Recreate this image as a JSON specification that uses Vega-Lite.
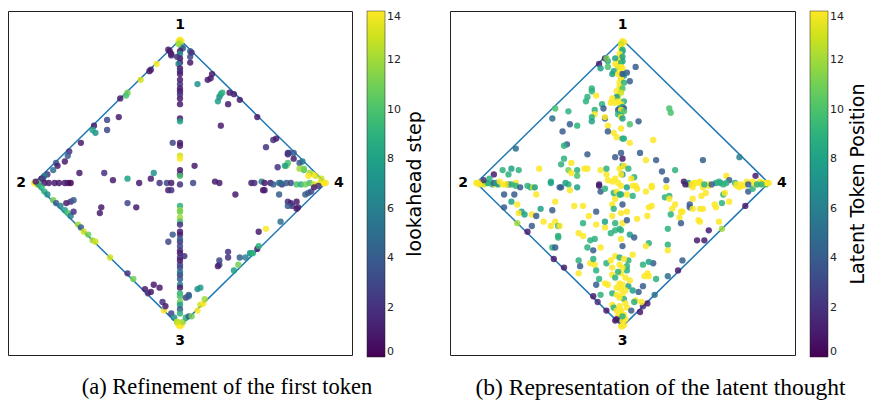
{
"$schema": "https://vega.github.io/schema/vega-lite/v6.json",
"padding": {"left": 7, "top": 10, "right": 0, "bottom": 0},
"config": {
  "font": "DejaVu Sans",
  "view": {"stroke": "#222", "strokeWidth": 1},
  "legend": {"offset": 15, "padding": 0, "gradientLength": 346, "gradientThickness": 18, "labelFontSize": 11, "labelColor": "#222", "labelOffset": 8, "labelOverlap": false, "titleFontSize": 19, "titleFontWeight": "normal", "titleColor": "#000", "titleOrient": "right", "titleAnchor": "middle", "titlePadding": 5, "titleLimit": 500, "gradientStrokeColor": "#222", "gradientStrokeWidth": 0.5},
  "title": {"font": "Liberation Serif", "fontSize": 22.5, "fontWeight": "normal", "color": "#000", "offset": 18}
},
"spacing": 22,
"resolve": {"scale": {"color": "independent"}},
"datasets": {
  "diamond": [{"x":0,"y":1,"o":0},{"x":-1,"y":0,"o":1},{"x":0,"y":-1,"o":2},{"x":1,"y":0,"o":3},{"x":0,"y":1,"o":4}],
  "labels": [{"x":0,"y":1.1,"t":"1"},{"x":-1.09,"y":0,"t":"2"},{"x":0,"y":-1.1,"t":"3"},{"x":1.09,"y":0,"t":"4"}],
  "a": [
{"x":0,"y":1,"c":14},{"x":0.01,"y":0.99,"c":14},{"x":-0.01,"y":0.99,"c":14},{"x":0,"y":0.98,"c":13},{"x":0.01,"y":0.95,"c":7},{"x":0.02,"y":0.94,"c":4},{"x":-0.01,"y":0.97,"c":12},
{"x":0,"y":0.92,"c":1},{"x":0,"y":0.9,"c":7},{"x":0,"y":0.87,"c":1},{"x":0,"y":0.84,"c":1},{"x":-0.01,"y":0.83,"c":6},{"x":0,"y":0.8,"c":1},{"x":0,"y":0.78,"c":2},{"x":0,"y":0.76,"c":1},{"x":0,"y":0.72,"c":1},{"x":0,"y":0.69,"c":2},{"x":0,"y":0.64,"c":1},{"x":0,"y":0.59,"c":1},{"x":0,"y":0.55,"c":1},{"x":0,"y":0.45,"c":1},{"x":0,"y":0.43,"c":8},{"x":0,"y":0.28,"c":1},{"x":0,"y":0.26,"c":1},{"x":0,"y":0.19,"c":13},{"x":0,"y":0.17,"c":14},{"x":0,"y":0.09,"c":1},{"x":0,"y":0.06,"c":1},{"x":0,"y":0.05,"c":10},{"x":0,"y":-0.01,"c":2},
{"x":-0.05,"y":0.28,"c":3},{"x":-0.07,"y":0.92,"c":1},{"x":-0.02,"y":0.88,"c":2},{"x":0.07,"y":0.92,"c":4},{"x":0.07,"y":0.88,"c":3},{"x":0.07,"y":0.84,"c":1},{"x":0.08,"y":0.91,"c":2},{"x":-0.08,"y":0.93,"c":1},{"x":-0.06,"y":0.89,"c":2},{"x":0,"y":0.66,"c":1},{"x":0,"y":0.62,"c":2},
{"x":-0.16,"y":0.83,"c":14},{"x":-0.2,"y":0.79,"c":1},{"x":-0.27,"y":0.72,"c":13},{"x":-0.36,"y":0.63,"c":11},{"x":-0.37,"y":0.61,"c":10},{"x":-0.41,"y":0.59,"c":1},{"x":-0.59,"y":0.4,"c":1},{"x":-0.58,"y":0.35,"c":7},{"x":-0.6,"y":0.37,"c":8},{"x":-0.5,"y":0.44,"c":3},{"x":-0.5,"y":0.37,"c":3},{"x":-0.42,"y":0.46,"c":1},{"x":-0.68,"y":0.28,"c":1},{"x":-0.76,"y":0.22,"c":2},{"x":-0.77,"y":0.19,"c":4},{"x":-0.79,"y":0.15,"c":1},{"x":-0.85,"y":0.14,"c":4},{"x":-0.84,"y":0.12,"c":1},{"x":-0.87,"y":0.09,"c":5},{"x":-0.91,"y":0.06,"c":2},{"x":-0.93,"y":0.05,"c":6},{"x":-0.95,"y":0.03,"c":1},{"x":-0.94,"y":0.03,"c":3},{"x":-0.69,"y":0.07,"c":1},{"x":-0.21,"y":0.78,"c":1},{"x":-0.06,"y":0.9,"c":1},
{"x":-1,"y":0,"c":14},{"x":-0.99,"y":0,"c":14},{"x":-0.98,"y":-0.01,"c":14},{"x":-0.98,"y":0,"c":13},{"x":-0.97,"y":-0.01,"c":8},{"x":-0.99,"y":0.01,"c":1},
{"x":-0.93,"y":0,"c":1},{"x":-0.9,"y":0,"c":1},{"x":-0.86,"y":0,"c":1},{"x":-0.83,"y":0,"c":1},{"x":-0.79,"y":0,"c":1},{"x":-0.77,"y":0,"c":1},{"x":-0.75,"y":0,"c":0},
{"x":-0.52,"y":0.07,"c":2},{"x":-0.46,"y":0.02,"c":1},{"x":-0.36,"y":0.03,"c":8},{"x":-0.28,"y":0,"c":1},{"x":-0.2,"y":0.03,"c":1},{"x":-0.18,"y":0.07,"c":7},{"x":-0.14,"y":0,"c":2},{"x":-0.09,"y":0,"c":3},{"x":-0.06,"y":0,"c":1},{"x":-0.08,"y":-0.05,"c":1},{"x":-0.06,"y":-0.05,"c":2},{"x":0.09,"y":0,"c":3},{"x":0.1,"y":0.12,"c":1},{"x":0.24,"y":0.01,"c":1},{"x":0.27,"y":0,"c":1},{"x":0.49,"y":0,"c":1},{"x":0.51,"y":0,"c":2},{"x":0.56,"y":0.01,"c":6},{"x":0.58,"y":0,"c":1},{"x":0.57,"y":-0.05,"c":1},{"x":0.62,"y":0,"c":1},{"x":0.64,"y":-0.01,"c":4},{"x":0.68,"y":0,"c":5},{"x":0.7,"y":-0.01,"c":2},{"x":0.73,"y":0,"c":4},{"x":0.76,"y":0,"c":3},{"x":0.8,"y":-0.01,"c":10},{"x":0.83,"y":-0.01,"c":9},{"x":0.86,"y":-0.01,"c":11},{"x":0.89,"y":0,"c":10},{"x":0.92,"y":-0.01,"c":13},{"x":0.96,"y":0,"c":14},{"x":0.98,"y":0,"c":14},{"x":0.99,"y":0,"c":14},{"x":1,"y":0,"c":14},{"x":0.97,"y":0,"c":14},
{"x":-0.95,"y":-0.03,"c":9},{"x":-0.93,"y":-0.06,"c":9},{"x":-0.91,"y":-0.08,"c":7},{"x":-0.87,"y":-0.12,"c":11},{"x":-0.85,"y":-0.14,"c":4},{"x":-0.82,"y":-0.16,"c":6},{"x":-0.79,"y":-0.19,"c":8},{"x":-0.77,"y":-0.21,"c":10},{"x":-0.75,"y":-0.23,"c":6},{"x":-0.73,"y":-0.2,"c":2},{"x":-0.75,"y":-0.13,"c":2},{"x":-0.78,"y":-0.14,"c":1},{"x":-0.7,"y":-0.29,"c":12},{"x":-0.68,"y":-0.31,"c":4},{"x":-0.66,"y":-0.34,"c":13},{"x":-0.63,"y":-0.36,"c":11},{"x":-0.6,"y":-0.4,"c":12},{"x":-0.58,"y":-0.41,"c":13},{"x":-0.48,"y":-0.52,"c":13},{"x":-0.36,"y":-0.63,"c":2},{"x":-0.32,"y":-0.67,"c":11},{"x":-0.24,"y":-0.74,"c":1},{"x":-0.22,"y":-0.77,"c":2},{"x":-0.2,"y":-0.76,"c":1},{"x":-0.18,"y":-0.71,"c":1},{"x":-0.14,"y":-0.73,"c":1},{"x":-0.12,"y":-0.83,"c":2},{"x":-0.11,"y":-0.89,"c":14},{"x":-0.1,"y":-0.86,"c":1},{"x":-0.06,"y":-0.91,"c":3},{"x":-0.04,"y":-0.94,"c":7},{"x":-0.02,"y":-0.97,"c":10},
{"x":-0.54,"y":-0.17,"c":1},{"x":-0.55,"y":-0.21,"c":1},{"x":-0.36,"y":-0.14,"c":3},{"x":-0.3,"y":-0.17,"c":1},{"x":-0.73,"y":-0.12,"c":4},
{"x":0,"y":-1,"c":14},{"x":0.01,"y":-0.99,"c":14},{"x":-0.01,"y":-0.99,"c":14},{"x":0,"y":-0.98,"c":14},{"x":-0.02,"y":-0.97,"c":13},{"x":0.02,"y":-0.97,"c":12},{"x":0.04,"y":-0.94,"c":9},{"x":0.06,"y":-0.93,"c":4},
{"x":0,"y":-0.16,"c":9},{"x":0,"y":-0.19,"c":12},{"x":0,"y":-0.2,"c":11},{"x":0,"y":-0.24,"c":12},{"x":0,"y":-0.27,"c":10},{"x":0,"y":-0.29,"c":2},{"x":0,"y":-0.34,"c":1},{"x":0,"y":-0.36,"c":1},{"x":0,"y":-0.41,"c":2},{"x":0,"y":-0.44,"c":3},{"x":0,"y":-0.47,"c":2},{"x":0,"y":-0.49,"c":1},{"x":0,"y":-0.52,"c":2},{"x":0,"y":-0.57,"c":3},{"x":0,"y":-0.59,"c":3},{"x":0,"y":-0.64,"c":2},{"x":0,"y":-0.67,"c":4},{"x":0,"y":-0.71,"c":6},{"x":0,"y":-0.73,"c":1},{"x":0,"y":-0.77,"c":9},{"x":0,"y":-0.79,"c":10},{"x":0,"y":-0.83,"c":11},{"x":0,"y":-0.85,"c":8},{"x":0,"y":-0.88,"c":4},{"x":0,"y":-0.91,"c":9},{"x":0,"y":-0.62,"c":5},{"x":0,"y":-0.39,"c":4},{"x":0,"y":-0.54,"c":1},
{"x":-0.05,"y":-0.36,"c":4},{"x":-0.08,"y":-0.41,"c":3},{"x":0.03,"y":-0.51,"c":2},{"x":0.06,"y":-0.79,"c":5},{"x":0.04,"y":-0.8,"c":3},
{"x":0.14,"y":-0.73,"c":8},{"x":0.12,"y":-0.74,"c":7},{"x":0.14,"y":-0.85,"c":13},{"x":0.16,"y":-0.84,"c":14},{"x":0.17,"y":-0.81,"c":12},{"x":0.12,"y":-0.89,"c":14},{"x":0.08,"y":-0.93,"c":11},{"x":0.06,"y":-0.78,"c":4},{"x":0.37,"y":-0.61,"c":8},{"x":0.4,"y":-0.57,"c":11},{"x":0.48,"y":-0.49,"c":7},{"x":0.49,"y":-0.49,"c":8},{"x":0.5,"y":-0.49,"c":9},{"x":0.53,"y":-0.46,"c":1},{"x":0.54,"y":-0.44,"c":9},{"x":0.69,"y":-0.27,"c":5},{"x":0.59,"y":-0.32,"c":14},{"x":0.54,"y":-0.34,"c":1},{"x":0.27,"y":-0.57,"c":3},{"x":0.27,"y":-0.54,"c":3},{"x":0.33,"y":-0.48,"c":2},{"x":0.33,"y":-0.52,"c":2},{"x":0.41,"y":-0.52,"c":4},{"x":0.26,"y":-0.58,"c":1},{"x":0.45,"y":-0.52,"c":6},
{"x":0.38,"y":-0.08,"c":1},{"x":0.68,"y":-0.08,"c":4},{"x":0.74,"y":-0.13,"c":2},{"x":0.76,"y":-0.14,"c":1},{"x":0.8,"y":-0.13,"c":1},{"x":0.77,"y":-0.16,"c":2},{"x":0.81,"y":-0.17,"c":1},{"x":0.8,"y":-0.18,"c":1},{"x":0.74,"y":-0.16,"c":4},{"x":0.86,"y":-0.08,"c":4},{"x":0.88,"y":-0.07,"c":4},{"x":0.9,"y":-0.06,"c":3},{"x":0.92,"y":-0.03,"c":1},{"x":0.95,"y":-0.02,"c":2},{"x":0.58,"y":-0.05,"c":1},
{"x":0.97,"y":0.03,"c":13},{"x":0.93,"y":0.05,"c":13},{"x":0.91,"y":0.06,"c":14},{"x":0.89,"y":0.07,"c":12},{"x":0.85,"y":0.09,"c":10},{"x":0.84,"y":0.15,"c":6},{"x":0.82,"y":0.14,"c":4},{"x":0.78,"y":0.17,"c":1},{"x":0.78,"y":0.21,"c":4},{"x":0.74,"y":0.2,"c":1},{"x":0.75,"y":0.21,"c":4},{"x":0.73,"y":0.12,"c":11},{"x":0.74,"y":0.14,"c":10},{"x":0.67,"y":0.11,"c":2},{"x":0.69,"y":0,"c":5},{"x":0.72,"y":0.12,"c":8},{"x":0.82,"y":0.1,"c":12},{"x":0.85,"y":0.1,"c":11},{"x":0.88,"y":0.05,"c":14},
{"x":0.12,"y":0.69,"c":7},{"x":0.19,"y":0.72,"c":1},{"x":0.21,"y":0.73,"c":1},{"x":0.22,"y":0.76,"c":1},{"x":0.26,"y":0.57,"c":8},{"x":0.27,"y":0.6,"c":7},{"x":0.28,"y":0.62,"c":8},{"x":0.29,"y":0.63,"c":9},{"x":0.33,"y":0.55,"c":1},{"x":0.34,"y":0.63,"c":1},{"x":0.37,"y":0.62,"c":1},{"x":0.41,"y":0.58,"c":1},{"x":0.28,"y":0.4,"c":1},{"x":0.53,"y":0.46,"c":1},{"x":0.59,"y":0.25,"c":2},{"x":0.64,"y":0.3,"c":2},{"x":0.66,"y":0.31,"c":1},{"x":0.74,"y":0.21,"c":2}
  ],
  "b": [
{"x":0,"y":0.99,"c":14},{"x":0,"y":0.98,"c":14},{"x":0.01,"y":0.98,"c":14},{"x":-0.01,"y":0.97,"c":13},{"x":-0.01,"y":0.94,"c":14},{"x":0,"y":0.92,"c":7},{"x":0,"y":0.93,"c":9},{"x":-0.02,"y":0.9,"c":14},{"x":-0.01,"y":0.88,"c":14},{"x":0,"y":0.88,"c":8},{"x":0,"y":0.85,"c":8},{"x":-0.03,"y":0.85,"c":14},{"x":-0.01,"y":0.84,"c":9},{"x":-0.03,"y":0.81,"c":13},{"x":-0.01,"y":0.81,"c":14},{"x":0,"y":0.8,"c":14},{"x":-0.02,"y":0.77,"c":14},{"x":0.03,"y":0.77,"c":4},{"x":0.09,"y":0.81,"c":4},{"x":0,"y":0.76,"c":5},{"x":0.01,"y":0.75,"c":7},{"x":-0.01,"y":0.73,"c":13},{"x":-0.01,"y":0.72,"c":14},{"x":-0.02,"y":0.7,"c":14},{"x":0.01,"y":0.7,"c":9},{"x":0.05,"y":0.71,"c":4},{"x":-0.02,"y":0.67,"c":14},{"x":-0.01,"y":0.66,"c":14},{"x":0,"y":0.66,"c":10},{"x":-0.04,"y":0.64,"c":14},{"x":-0.01,"y":0.63,"c":13},{"x":-0.03,"y":0.6,"c":13},{"x":-0.04,"y":0.6,"c":8},{"x":-0.07,"y":0.59,"c":14},{"x":-0.03,"y":0.57,"c":14},{"x":0.01,"y":0.57,"c":9},{"x":-0.08,"y":0.56,"c":14},{"x":-0.05,"y":0.56,"c":14},{"x":-0.01,"y":0.55,"c":14},{"x":0,"y":0.53,"c":8},{"x":-0.02,"y":0.52,"c":8},{"x":0.01,"y":0.52,"c":4},{"x":-0.03,"y":0.51,"c":4},{"x":-0.01,"y":0.51,"c":14},{"x":0.01,"y":0.5,"c":10},{"x":-0.03,"y":0.48,"c":9},{"x":-0.01,"y":0.47,"c":9},{"x":-0.01,"y":0.46,"c":14},{"x":0,"y":0.45,"c":8},
{"x":-0.05,"y":0.87,"c":8},{"x":-0.1,"y":0.85,"c":9},{"x":-0.12,"y":0.87,"c":1},{"x":-0.11,"y":0.87,"c":11},{"x":-0.16,"y":0.83,"c":1},{"x":-0.15,"y":0.8,"c":8},{"x":-0.1,"y":0.81,"c":10},{"x":-0.05,"y":0.83,"c":14},{"x":-0.07,"y":0.76,"c":8},{"x":-0.06,"y":0.78,"c":8},{"x":-0.03,"y":0.76,"c":14},{"x":0,"y":0.76,"c":4},
{"x":-0.21,"y":0.66,"c":9},{"x":-0.21,"y":0.64,"c":9},{"x":-0.24,"y":0.6,"c":9},{"x":-0.25,"y":0.57,"c":9},{"x":-0.18,"y":0.61,"c":14},{"x":-0.14,"y":0.55,"c":9},{"x":-0.19,"y":0.51,"c":9},{"x":-0.13,"y":0.52,"c":4},{"x":-0.19,"y":0.48,"c":14},{"x":-0.21,"y":0.46,"c":9},{"x":-0.21,"y":0.43,"c":8},{"x":-0.12,"y":0.45,"c":4},{"x":-0.12,"y":0.46,"c":14},{"x":-0.37,"y":0.5,"c":9},{"x":-0.31,"y":0.4,"c":9},{"x":-0.36,"y":0.41,"c":4},{"x":-0.41,"y":0.36,"c":4},{"x":-0.1,"y":0.4,"c":14},{"x":-0.06,"y":0.35,"c":14},{"x":-0.1,"y":0.36,"c":4},{"x":-0.04,"y":0.32,"c":14},{"x":0,"y":0.31,"c":8},{"x":-0.46,"y":0.52,"c":10},{"x":-0.48,"y":0.45,"c":5},{"x":-0.73,"y":0.24,"c":5},{"x":-0.38,"y":0.27,"c":4},{"x":-0.4,"y":0.26,"c":9},{"x":-0.24,"y":0.2,"c":4},{"x":-0.4,"y":0.17,"c":9},{"x":-0.35,"y":0.14,"c":14},{"x":-0.42,"y":0.13,"c":9},{"x":-0.37,"y":0.09,"c":11},{"x":-0.35,"y":0.07,"c":14},{"x":-0.31,"y":0.09,"c":9},{"x":-0.31,"y":0.05,"c":10},{"x":-0.26,"y":0.1,"c":14},{"x":-0.24,"y":0.1,"c":14},{"x":-0.15,"y":0.09,"c":14},{"x":-0.11,"y":0.06,"c":14},{"x":-0.1,"y":0.02,"c":14},{"x":-0.07,"y":0.01,"c":14},{"x":-0.05,"y":0.03,"c":14},{"x":-0.11,"y":0.1,"c":9},{"x":-0.05,"y":0.18,"c":4},{"x":0,"y":0.17,"c":1},{"x":0,"y":0.12,"c":9},{"x":-0.02,"y":0.1,"c":14},{"x":0,"y":0.06,"c":7},{"x":-0.16,"y":-0.01,"c":1},{"x":-0.03,"y":0,"c":14},{"x":-0.57,"y":0.1,"c":14},{"x":-0.49,"y":0.01,"c":9},{"x":-0.88,"y":0.06,"c":1},{"x":-0.82,"y":0.09,"c":9},{"x":-0.78,"y":0.06,"c":9},{"x":-0.71,"y":0.09,"c":9},{"x":-0.76,"y":0.1,"c":8},{"x":-0.42,"y":-0.03,"c":4},{"x":-0.37,"y":-0.01,"c":9},
{"x":-1,"y":0,"c":14},{"x":-0.99,"y":0,"c":14},{"x":-0.97,"y":0,"c":14},{"x":-0.96,"y":0.01,"c":13},{"x":-0.93,"y":0,"c":10},{"x":-0.89,"y":-0.01,"c":9},{"x":-0.87,"y":-0.01,"c":14},{"x":-0.85,"y":-0.01,"c":8},{"x":-0.82,"y":-0.01,"c":14},{"x":-0.8,"y":-0.01,"c":14},{"x":-0.78,"y":-0.01,"c":4},{"x":-0.73,"y":0,"c":14},{"x":-0.95,"y":-0.01,"c":13},{"x":-0.92,"y":0,"c":9},{"x":-0.88,"y":0,"c":4},{"x":-0.86,"y":0,"c":8},{"x":-0.79,"y":-0.01,"c":14},{"x":-0.76,"y":-0.01,"c":9},{"x":-0.73,"y":-0.02,"c":9},{"x":-0.7,"y":-0.03,"c":4},{"x":-0.65,"y":-0.02,"c":9},{"x":-0.63,"y":-0.03,"c":9},{"x":-0.61,"y":-0.03,"c":14},{"x":-0.59,"y":-0.08,"c":14},{"x":-0.6,"y":-0.03,"c":8},{"x":-0.95,"y":0.02,"c":2},{"x":-0.91,"y":0.03,"c":9},{"x":-0.98,"y":-0.01,"c":14},{"x":-0.84,"y":0.01,"c":14},
{"x":-0.81,"y":-0.08,"c":4},{"x":-0.74,"y":-0.08,"c":4},{"x":-0.76,"y":-0.13,"c":8},{"x":-0.72,"y":-0.15,"c":14},{"x":-0.69,"y":-0.2,"c":8},{"x":-0.71,"y":-0.21,"c":14},{"x":-0.67,"y":-0.22,"c":8},{"x":-0.62,"y":-0.22,"c":14},{"x":-0.56,"y":-0.18,"c":8},{"x":-0.59,"y":-0.23,"c":4},{"x":-0.62,"y":-0.3,"c":4},{"x":-0.54,"y":-0.27,"c":14},{"x":-0.46,"y":-0.13,"c":14},{"x":-0.48,"y":-0.19,"c":4},{"x":-0.49,"y":0,"c":8},{"x":-0.43,"y":-0.03,"c":4},{"x":-0.39,"y":0,"c":8},{"x":-0.36,"y":-0.05,"c":14},{"x":-0.31,"y":-0.03,"c":8},{"x":-0.33,"y":-0.16,"c":14},{"x":-0.27,"y":-0.16,"c":14},{"x":-0.18,"y":-0.2,"c":4},{"x":-0.23,"y":-0.23,"c":14},{"x":-0.27,"y":-0.28,"c":9},{"x":-0.3,"y":-0.35,"c":14},{"x":-0.27,"y":-0.37,"c":14},{"x":-0.22,"y":-0.4,"c":9},{"x":-0.24,"y":-0.45,"c":9},{"x":-0.2,"y":-0.47,"c":4},{"x":-0.15,"y":-0.45,"c":14},{"x":-0.19,"y":-0.39,"c":9},{"x":-0.12,"y":-0.31,"c":14},{"x":-0.18,"y":-0.29,"c":14},{"x":-0.12,"y":-0.27,"c":8},{"x":-0.07,"y":-0.23,"c":14},{"x":-0.05,"y":-0.28,"c":9},{"x":-0.05,"y":-0.33,"c":9},{"x":-0.08,"y":-0.35,"c":9},{"x":-0.02,"y":-0.32,"c":9},{"x":0,"y":-0.28,"c":14},{"x":-0.07,"y":-0.15,"c":14},{"x":-0.06,"y":-0.18,"c":9},{"x":-0.05,"y":-0.11,"c":14},{"x":-0.06,"y":-0.07,"c":9},{"x":-0.15,"y":-0.06,"c":4},{"x":-0.16,"y":-0.02,"c":1},{"x":-0.12,"y":-0.04,"c":9},{"x":-0.04,"y":-0.06,"c":14},{"x":-0.02,"y":-0.08,"c":9},{"x":-0.46,"y":-0.27,"c":14},{"x":-0.44,"y":-0.3,"c":9},{"x":-0.43,"y":-0.3,"c":14},{"x":-0.49,"y":-0.3,"c":14},{"x":-0.44,"y":-0.37,"c":9},{"x":-0.44,"y":-0.38,"c":9},{"x":-0.48,"y":-0.45,"c":9},{"x":-0.46,"y":-0.45,"c":4},{"x":-0.3,"y":-0.54,"c":9},{"x":-0.29,"y":-0.58,"c":4},{"x":-0.3,"y":-0.63,"c":14},{"x":-0.22,"y":-0.56,"c":14},{"x":-0.19,"y":-0.57,"c":14},{"x":-0.2,"y":-0.53,"c":9},{"x":-0.18,"y":-0.61,"c":9},{"x":-0.16,"y":-0.67,"c":9},{"x":-0.18,"y":-0.71,"c":4},{"x":-0.12,"y":-0.7,"c":14},{"x":-0.1,"y":-0.71,"c":14},{"x":-0.11,"y":-0.56,"c":9},{"x":-0.07,"y":-0.59,"c":14},{"x":-0.07,"y":-0.64,"c":14},{"x":-0.05,"y":-0.66,"c":9},{"x":-0.04,"y":-0.73,"c":14},{"x":-0.02,"y":-0.7,"c":14},{"x":-0.08,"y":-0.54,"c":14},{"x":-0.05,"y":-0.51,"c":14},{"x":-0.02,"y":-0.52,"c":9},{"x":-0.02,"y":-0.57,"c":14},{"x":-0.07,"y":-0.77,"c":9},{"x":-0.04,"y":-0.78,"c":14},{"x":-0.07,"y":-0.85,"c":14},{"x":-0.06,"y":-0.87,"c":9},{"x":-0.04,"y":-0.89,"c":14},{"x":-0.02,"y":-0.86,"c":14},{"x":-0.03,"y":-0.93,"c":14},{"x":-0.02,"y":-0.96,"c":4},{"x":-0.04,"y":-0.95,"c":1},{"x":-0.15,"y":-0.78,"c":9},
{"x":-0.81,"y":-0.17,"c":4},{"x":-0.72,"y":-0.28,"c":12},{"x":-0.65,"y":-0.34,"c":1},{"x":-0.47,"y":-0.53,"c":1},{"x":-0.4,"y":-0.59,"c":1},{"x":-0.2,"y":-0.79,"c":1},{"x":-0.17,"y":-0.83,"c":2},{"x":-0.11,"y":-0.89,"c":1},{"x":-0.05,"y":-0.96,"c":1},
{"x":-0.01,"y":-0.02,"c":14},{"x":0.03,"y":-0.03,"c":8},{"x":0.07,"y":-0.02,"c":14},{"x":0.1,"y":-0.04,"c":14},{"x":0.16,"y":-0.06,"c":14},{"x":0.2,"y":-0.03,"c":14},{"x":0.03,"y":-0.08,"c":14},{"x":-0.01,"y":-0.08,"c":9},{"x":0,"y":-0.15,"c":4},{"x":0.07,"y":-0.09,"c":9},{"x":0.03,"y":-0.2,"c":14},{"x":-0.01,"y":-0.21,"c":14},{"x":0.03,"y":-0.26,"c":4},{"x":0.1,"y":-0.25,"c":14},{"x":0.17,"y":-0.23,"c":14},{"x":0.2,"y":-0.16,"c":14},{"x":0.18,"y":-0.17,"c":14},{"x":0.3,"y":-0.03,"c":14},{"x":0.29,"y":-0.1,"c":9},{"x":0.32,"y":-0.09,"c":9},{"x":0.32,"y":-0.11,"c":14},{"x":0.36,"y":-0.15,"c":14},{"x":0.34,"y":-0.18,"c":14},{"x":0.33,"y":-0.22,"c":9},{"x":0.42,"y":0.01,"c":1},{"x":0.41,"y":-0.2,"c":14},{"x":0.39,"y":-0.24,"c":14},{"x":0.46,"y":-0.15,"c":4},{"x":0.46,"y":-0.17,"c":4},{"x":0.48,"y":-0.11,"c":14},{"x":0.48,"y":-0.18,"c":14},{"x":0.53,"y":-0.18,"c":14},{"x":0.55,"y":-0.18,"c":14},{"x":0.52,"y":-0.26,"c":14},{"x":0.48,"y":-0.03,"c":14},{"x":0.45,"y":-0.01,"c":9},{"x":0.49,"y":0,"c":14},{"x":0.53,"y":0,"c":14},{"x":0.55,"y":-0.03,"c":14},{"x":0.57,"y":-0.07,"c":14},{"x":0.54,"y":-0.09,"c":14},{"x":0.59,"y":-0.02,"c":14},{"x":0.63,"y":-0.15,"c":14},{"x":0.64,"y":-0.17,"c":14},{"x":0.67,"y":0,"c":8},{"x":0.69,"y":-0.08,"c":9},{"x":0.68,"y":-0.14,"c":9},{"x":0.73,"y":-0.13,"c":14},{"x":0.7,"y":-0.07,"c":14},{"x":0.78,"y":-0.02,"c":14},{"x":0.8,"y":-0.03,"c":14},{"x":0.83,"y":-0.02,"c":14},{"x":0.86,"y":-0.06,"c":4},{"x":0.84,"y":-0.16,"c":1},{"x":0.89,"y":-0.04,"c":9},{"x":0.91,"y":-0.01,"c":14},{"x":0.96,"y":-0.01,"c":14},{"x":0.98,"y":-0.01,"c":9},{"x":1,"y":0,"c":14},{"x":0.99,"y":0,"c":14},
{"x":0.66,"y":-0.27,"c":14},{"x":0.68,"y":-0.32,"c":12},{"x":0.59,"y":-0.33,"c":1},{"x":0.56,"y":-0.4,"c":1},{"x":0.51,"y":-0.4,"c":1},{"x":0.41,"y":-0.54,"c":4},{"x":0.38,"y":-0.61,"c":1},{"x":0.31,"y":-0.65,"c":5},{"x":0.22,"y":-0.78,"c":5},{"x":0.17,"y":-0.84,"c":1},{"x":0.12,"y":-0.9,"c":1},{"x":0.14,"y":-0.86,"c":2},
{"x":0.31,"y":-0.43,"c":9},{"x":0.31,"y":-0.47,"c":14},{"x":0.4,"y":-0.28,"c":4},{"x":0.53,"y":-0.27,"c":14},{"x":0.4,"y":-0.2,"c":14},{"x":0.18,"y":-0.42,"c":9},{"x":0.16,"y":-0.44,"c":14},{"x":0.21,"y":-0.56,"c":4},{"x":0.18,"y":-0.55,"c":8},{"x":0.14,"y":-0.57,"c":9},{"x":0.17,"y":-0.63,"c":14},{"x":0.15,"y":-0.65,"c":14},{"x":0.18,"y":-0.65,"c":14},{"x":0.23,"y":-0.67,"c":9},{"x":0.14,"y":-0.72,"c":4},{"x":0.11,"y":-0.76,"c":4},{"x":0.13,"y":-0.83,"c":14},{"x":0.09,"y":-0.82,"c":14},{"x":0.07,"y":-0.75,"c":8},{"x":0.04,"y":-0.72,"c":8},{"x":0.05,"y":-0.68,"c":14},{"x":0.03,"y":-0.61,"c":9},{"x":0.03,"y":-0.58,"c":9},{"x":0.07,"y":-0.5,"c":14},{"x":0.04,"y":-0.54,"c":9},{"x":0,"y":-0.59,"c":14},{"x":0.01,"y":-0.53,"c":14},{"x":-0.01,"y":-0.63,"c":14},{"x":0,"y":-0.71,"c":14},{"x":-0.01,"y":-0.74,"c":14},{"x":0,"y":-0.78,"c":14},{"x":0.01,"y":-0.81,"c":9},{"x":0.03,"y":-0.87,"c":14},{"x":-0.01,"y":-0.89,"c":14},{"x":0.01,"y":-0.92,"c":14},{"x":0,"y":-0.96,"c":14},{"x":-0.01,"y":-1,"c":14},{"x":0,"y":-1,"c":14},{"x":0.01,"y":-0.99,"c":14},{"x":0.06,"y":-0.89,"c":4},{"x":0.08,"y":-0.83,"c":9},{"x":0.31,"y":-0.32,"c":9},{"x":-0.01,"y":-0.33,"c":9},{"x":-0.01,"y":-0.39,"c":14},{"x":0,"y":-0.44,"c":4},{"x":0.05,"y":-0.36,"c":8},{"x":0.08,"y":-0.38,"c":4},
{"x":0.02,"y":-0.66,"c":14},{"x":-0.02,"y":-0.8,"c":14},{"x":0.02,"y":-0.84,"c":14},{"x":-0.02,"y":-0.91,"c":14},{"x":0.02,"y":-0.95,"c":14},{"x":0,"y":-0.93,"c":9},{"x":0.02,"y":-0.75,"c":14},{"x":-0.03,"y":-0.62,"c":9},
{"x":0.11,"y":0.43,"c":4},{"x":0.05,"y":0.41,"c":10},{"x":-0.01,"y":0.38,"c":14},{"x":0.32,"y":0.52,"c":10},{"x":0.33,"y":0.49,"c":10},{"x":0.01,"y":0.31,"c":9},{"x":0.05,"y":0.28,"c":14},{"x":0.21,"y":0.3,"c":14},{"x":-0.01,"y":0.21,"c":4},{"x":0.12,"y":0.21,"c":4},{"x":0.16,"y":0.16,"c":14},{"x":0.23,"y":0.16,"c":4},{"x":0.55,"y":0.16,"c":4},{"x":0.8,"y":0.18,"c":6},{"x":0.01,"y":0.12,"c":14},{"x":0.04,"y":0.1,"c":9},{"x":0.08,"y":0.04,"c":9},{"x":0.06,"y":0.03,"c":14},{"x":-0.01,"y":0.06,"c":14},{"x":0.27,"y":0.08,"c":4},{"x":0.36,"y":0.09,"c":9},{"x":0.3,"y":0.02,"c":4},{"x":0.2,"y":-0.02,"c":14},{"x":0.09,"y":-0.02,"c":14},{"x":0.45,"y":0,"c":8},{"x":0.47,"y":-0.01,"c":14},{"x":0.5,"y":0,"c":14},{"x":0.53,"y":0.01,"c":14},{"x":0.59,"y":-0.01,"c":14},{"x":0.64,"y":0,"c":8},{"x":0.66,"y":0.01,"c":9},{"x":0.71,"y":0.05,"c":14},{"x":0.73,"y":0.02,"c":4},{"x":0.77,"y":0,"c":9},{"x":0.78,"y":-0.01,"c":14},{"x":0.81,"y":-0.01,"c":14},{"x":0.85,"y":0.01,"c":14},{"x":0.91,"y":0.05,"c":1},{"x":0.89,"y":0.01,"c":14},{"x":0.94,"y":0.01,"c":14},{"x":0.96,"y":0,"c":14},{"x":0.98,"y":0,"c":14},{"x":0.86,"y":-0.01,"c":4},{"x":0.92,"y":-0.01,"c":9},{"x":0.95,"y":-0.01,"c":9},{"x":0.71,"y":0,"c":9},{"x":0.69,"y":-0.01,"c":9},{"x":0.56,"y":-0.01,"c":9},{"x":0.61,"y":-0.01,"c":4},{"x":0.43,"y":-0.01,"c":1}
  ]
},
"hconcat": [
  {
    "width": 344, "height": 344,
    "title": {"text": "(a) Refinement of the first token", "orient": "bottom", "dx": 47},
    "layer": [
      {"data": {"name": "diamond"}, "mark": {"type": "line", "color": "#1f77b4", "strokeWidth": 1.5},
       "encoding": {"x": {"field": "x", "type": "quantitative", "scale": {"domain": [-1.18, 1.18], "nice": false, "zero": false}, "axis": null},
                    "y": {"field": "y", "type": "quantitative", "scale": {"domain": [-1.2, 1.2], "nice": false, "zero": false}, "axis": null},
                    "order": {"field": "o", "type": "quantitative"}}},
      {"data": {"name": "a"}, "mark": {"type": "circle", "size": 40, "fillOpacity": 0.85},
       "encoding": {"x": {"field": "x", "type": "quantitative"},
                    "y": {"field": "y", "type": "quantitative"},
                    "color": {"field": "c", "type": "quantitative", "scale": {"scheme": "viridis", "domain": [0, 14]}, "legend": {"title": "lookahead step", "values": [0, 2, 4, 6, 8, 10, 12, 14], "encode": {"title": {"update": {"angle": {"value": 270}, "baseline": {"value": "top"}}}}}}}},
      {"data": {"name": "labels"}, "mark": {"type": "text", "fontWeight": "bold", "fontSize": 14, "color": "#000"},
       "encoding": {"x": {"field": "x", "type": "quantitative"}, "y": {"field": "y", "type": "quantitative"}, "text": {"field": "t"}}}
    ]
  },
  {
    "width": 345, "height": 344,
    "title": {"text": "(b) Representation of the latent thought", "orient": "bottom", "dx": 38, "fontSize": 23.5},
    "layer": [
      {"data": {"name": "diamond"}, "mark": {"type": "line", "color": "#1f77b4", "strokeWidth": 1.5},
       "encoding": {"x": {"field": "x", "type": "quantitative", "scale": {"domain": [-1.18, 1.18], "nice": false, "zero": false}, "axis": null},
                    "y": {"field": "y", "type": "quantitative", "scale": {"domain": [-1.2, 1.2], "nice": false, "zero": false}, "axis": null},
                    "order": {"field": "o", "type": "quantitative"}}},
      {"data": {"name": "b"}, "mark": {"type": "circle", "size": 40, "fillOpacity": 0.85},
       "encoding": {"x": {"field": "x", "type": "quantitative"},
                    "y": {"field": "y", "type": "quantitative"},
                    "color": {"field": "c", "type": "quantitative", "scale": {"scheme": "viridis", "domain": [0, 14]}, "legend": {"title": "Latent Token Position", "values": [0, 2, 4, 6, 8, 10, 12, 14], "encode": {"title": {"update": {"angle": {"value": 270}, "baseline": {"value": "top"}}}}}}}},
      {"data": {"name": "labels"}, "mark": {"type": "text", "fontWeight": "bold", "fontSize": 14, "color": "#000"},
       "encoding": {"x": {"field": "x", "type": "quantitative"}, "y": {"field": "y", "type": "quantitative"}, "text": {"field": "t"}}}
    ]
  }
]
}
